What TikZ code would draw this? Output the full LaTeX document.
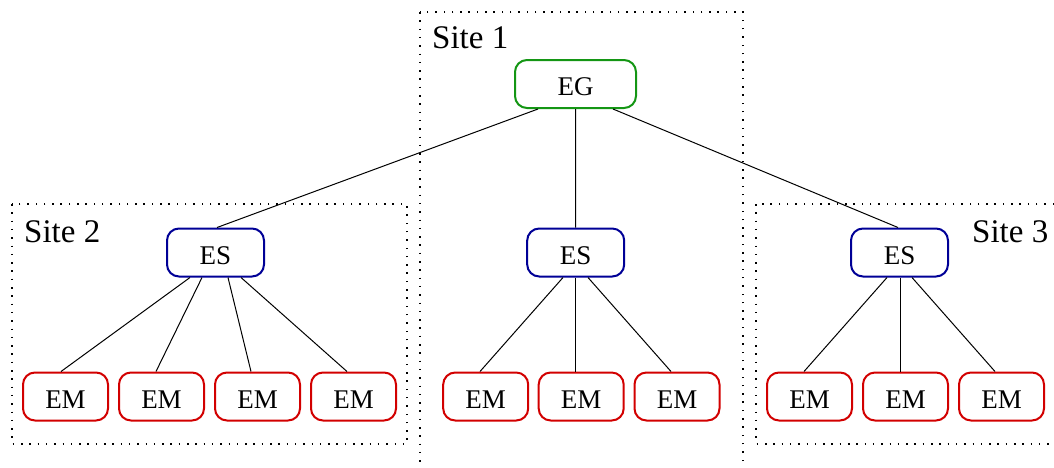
\documentclass[tikz,border=0pt]{standalone}
\usepackage{fontspec}
\setmainfont{Liberation Serif}
\definecolor{gwgreen}{RGB}{20,150,20}
\definecolor{srvblue}{RGB}{0,0,150}
\definecolor{mtred}{RGB}{210,0,0}
\tikzset{
  unit/.style={draw, line width=2pt, rounded corners=12pt, inner sep=0pt,
    minimum height=48pt, text height=23pt, text depth=0pt,
    font=\fontsize{27}{30}\selectfont},
  gwbox/.style={unit, draw=gwgreen, minimum width=121pt},
  srvbox/.style={unit, draw=srvblue, minimum width=97pt},
  mtbox/.style={unit, draw=mtred, minimum width=85pt},
  sitebox/.style={draw, line width=1.5pt, dash pattern=on 1.5pt off 6.8pt},
  sitelabel/.style={anchor=base west, inner sep=0pt, font=\fontsize{33}{36}\selectfont},
  link/.style={draw, line width=1pt}
}
\begin{document}
\begin{tikzpicture}[x=1pt,y=-1pt]
\clip (0,0) rectangle (1054,467);

% site enclosures
\draw[sitebox] (420,12) rectangle (743,490);
\draw[sitebox] (12,204) rectangle (407,444);
\draw[sitebox] (756,204) rectangle (1080,444);
\node[sitelabel] (l1) at (432,48) {Site 1};
\node[sitelabel] (l2) at (24,242) {Site 2};
\node[sitelabel] (l3) at (972,242) {Site 3};

% gateway and servers
\node[gwbox] (eg) at (575.5,84) {EG};
\node[srvbox] (esa) at (215.5,252.5) {ES};
\node[srvbox] (esb) at (575.7,252.5) {ES};
\node[srvbox] (esc) at (899.5,252.5) {ES};

% meters, site 2
\node[mtbox] (ma1) at (65.5,396.5) {EM};
\node[mtbox] (ma2) at (161.5,396.5) {EM};
\node[mtbox] (ma3) at (257.5,396.5) {EM};
\node[mtbox] (ma4) at (353.5,396.5) {EM};
% meters, site 1
\node[mtbox] (mb1) at (485.7,396.5) {EM};
\node[mtbox] (mb2) at (581.2,396.5) {EM};
\node[mtbox] (mb3) at (677,396.5) {EM};
% meters, site 3
\node[mtbox] (mc1) at (809.5,396.5) {EM};
\node[mtbox] (mc2) at (905.5,396.5) {EM};
\node[mtbox] (mc3) at (1001.5,396.5) {EM};

% gateway links
\draw[link] ([xshift=-37.5pt]eg.south) -- ([xshift=1.5pt]esa.north);
\draw[link] (eg.south) -- (esb.north);
\draw[link] ([xshift=37.5pt]eg.south) -- ([xshift=-1.5pt]esc.north);

% server links, site 2
\draw[link] ([xshift=-25.5pt]esa.south) -- ([xshift=-4.5pt]ma1.north);
\draw[link] ([xshift=-13.5pt]esa.south) -- ([xshift=-5.5pt]ma2.north);
\draw[link] ([xshift=12.5pt]esa.south) -- ([xshift=-6.5pt]ma3.north);
\draw[link] ([xshift=25.5pt]esa.south) -- ([xshift=-6.5pt]ma4.north);
% server links, site 1
\draw[link] ([xshift=-12.7pt]esb.south) -- ([xshift=-5.7pt]mb1.north);
\draw[link] (esb.south) -- ([xshift=-5.5pt]mb2.north);
\draw[link] ([xshift=12.3pt]esb.south) -- ([xshift=-6pt]mb3.north);
% server links, site 3
\draw[link] ([xshift=-12.5pt]esc.south) -- ([xshift=-5.5pt]mc1.north);
\draw[link] ([xshift=0.5pt]esc.south) -- ([xshift=-5.5pt]mc2.north);
\draw[link] ([xshift=12.5pt]esc.south) -- ([xshift=-6.5pt]mc3.north);
\end{tikzpicture}
\end{document}
